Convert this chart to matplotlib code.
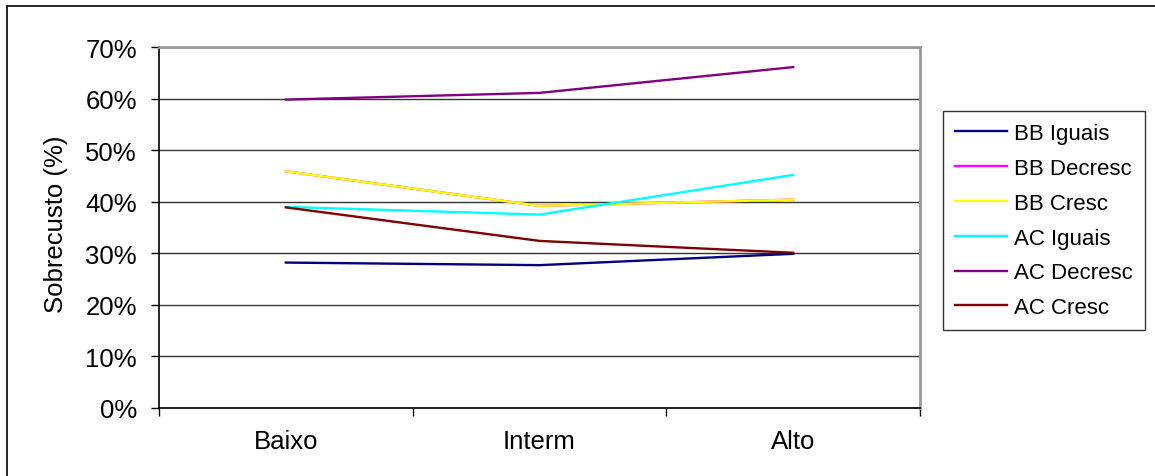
import matplotlib.pyplot as plt
from matplotlib.lines import Line2D
from matplotlib.ticker import FixedLocator, PercentFormatter

plt.rcParams['font.family'] = ['Liberation Sans', 'DejaVu Sans']

categories = ['Baixo', 'Interm', 'Alto']
series_names = ['BB Iguais', 'BB Decresc', 'BB Cresc', 'AC Iguais', 'AC Decresc', 'AC Cresc']
bb_iguais = [28.2, 27.7, 29.9]
bb_decresc = [45.9, 39.2, 40.4]
bb_cresc = [45.9, 39.2, 40.4]
ac_iguais = [39.0, 37.5, 45.2]
ac_decresc = [59.8, 61.1, 66.1]
ac_cresc = [38.9, 32.4, 30.1]
series = [bb_iguais, bb_decresc, bb_cresc, ac_iguais, ac_decresc, ac_cresc]
colors = ['#000080', '#FF00FF', '#FFFF00', '#00FFFF', '#800080', '#800000']

W, H = 1155, 477
fig = plt.figure(figsize=(W / 100, H / 100), dpi=100)

# outer chart border (left and top visible)
fig.add_artist(Line2D([7 / W, 7 / W], [0, 1 - 7 / H], color='black', lw=1.2, transform=fig.transFigure))
fig.add_artist(Line2D([7 / W, 1], [1 - 7 / H, 1 - 7 / H], color='black', lw=1.2, transform=fig.transFigure))

ax = fig.add_axes([159 / W, 1 - 409 / H, (920 - 159) / W, (409 - 48) / H])

x = list(range(len(categories)))
for name, vals, c in zip(series_names, series, colors):
    ax.plot(x, vals, color=c, lw=1.7, label=name)

ax.set_xlim(-0.5, 2.5)
ax.set_ylim(0, 70)
ax.yaxis.set_major_locator(FixedLocator(range(0, 71, 10)))
ax.yaxis.set_major_formatter(PercentFormatter(decimals=0))
ax.set_xticks(x)
ax.set_xticklabels(categories)
ax.xaxis.set_minor_locator(FixedLocator([-0.5, 0.5, 1.5, 2.5]))
ax.tick_params(axis='x', which='major', length=0, pad=15, labelsize=18.5)
ax.tick_params(axis='x', which='minor', length=6, width=1, direction='out', color='black')
ax.tick_params(axis='y', length=6, width=1, direction='out', labelsize=18.5, pad=10)

ax.grid(axis='y', color='#333333', lw=1)
ax.set_axisbelow(True)
for side in ['top', 'right']:
    ax.spines[side].set_color('#999999')
    ax.spines[side].set_linewidth(2)
for side in ['left', 'bottom']:
    ax.spines[side].set_color('black')
    ax.spines[side].set_linewidth(1.2)

ax.set_ylabel('Sobrecusto (%)', fontsize=18.5)
ax.yaxis.set_label_coords((68 - 159) / 761, (409 - 224) / 361)

leg = ax.legend(loc='upper left', bbox_to_anchor=((943 - 159) / (920 - 159), (409 - 112) / (409 - 48)),
                fontsize=16, frameon=True, fancybox=False, edgecolor='black',
                handlelength=2.35, handletextpad=0.3, labelspacing=0.62,
                borderpad=0.55, borderaxespad=0)
leg.get_frame().set_linewidth(1)

fig.savefig('out.png', dpi=100)
